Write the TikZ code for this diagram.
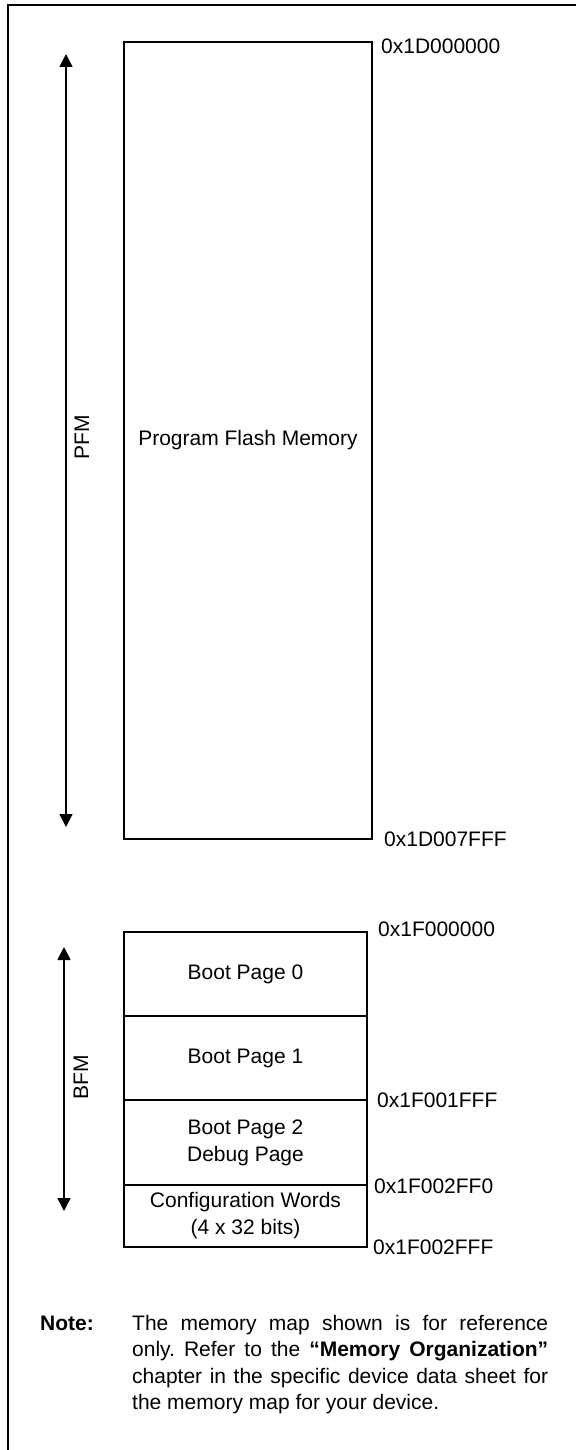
\documentclass[tikz,border=0pt]{standalone}
\usepackage{fontspec}
\setmainfont{Liberation Sans}
\usetikzlibrary{arrows.meta}
\frenchspacing
\begin{document}
\begin{tikzpicture}[x=1pt,y=-1pt,
  lbl/.style={font=\fontsize{21}{27}\selectfont, inner sep=0pt},
  addr/.style={lbl, anchor=west},
  mem/.style={draw, line width=1.8pt, inner sep=0pt, align=center, font=\fontsize{21}{27}\selectfont},
  span/.style={line width=1.8pt, {Triangle[length=13pt,width=13pt]}-{Triangle[length=13pt,width=13pt]}},
  frame/.style={line width=2.6pt},
  notetext/.style={inner sep=0pt, anchor=base west, font=\fontsize{21}{26.5}\selectfont}]
\useasboundingbox (0,0) rectangle (576,1450);
\draw[frame] (576,5) -- (8,5) -- (8,1450);
% PFM
\node[mem, minimum width=248pt, minimum height=797pt] (pfm) at (248,440.5) {Program Flash Memory};
\coordinate (pfmtop) at (66,54);
\coordinate (pfmbot) at (66,827);
\draw[span] (pfmtop) -- (pfmbot);
\node[lbl, rotate=90] (pfmlbl) at (82,437) {PFM};
\node[addr] (a1) at (381,46) {0x1D000000};
\node[addr] (a2) at (384,839) {0x1D007FFF};
% BFM
\node[mem, minimum width=243pt, minimum height=84pt] (bp0) at (245.5,974) {Boot Page 0};
\node[mem, minimum width=243pt, minimum height=84pt] (bp1) at (245.5,1058) {Boot Page 1};
\node[mem, minimum width=243pt, minimum height=85pt] (bp2) at (245.5,1142.5) {Boot Page 2\\Debug Page};
\node[mem, minimum width=243pt, minimum height=62pt] (cfg) at (245.5,1216) {Configuration Words\\(4 x 32 bits)};
\coordinate (bfmtop) at (64,947);
\coordinate (bfmbot) at (64,1211);
\draw[span] (bfmtop) -- (bfmbot);
\node[lbl, rotate=90] (bfmlbl) at (81,1077) {BFM};
\node[addr] (a3) at (378,929) {0x1F000000};
\node[addr] (a4) at (377,1100) {0x1F001FFF};
\node[addr] (a5) at (374,1186) {0x1F002FF0};
\node[addr] (a6) at (373,1247) {0x1F002FFF};
% Note
\node[notetext, font=\bfseries\fontsize{21}{26.5}\selectfont] (notehead) at (40,1330) {Note:};
\node[notetext, text width=416pt, align=justify] (notebody) at (132,1330) {The memory map shown is for reference\linebreak only. Refer to the \textbf{“Memory Organization”}\linebreak chapter in the specific device data sheet for\linebreak the memory map for your device.};
\end{tikzpicture}
\end{document}
